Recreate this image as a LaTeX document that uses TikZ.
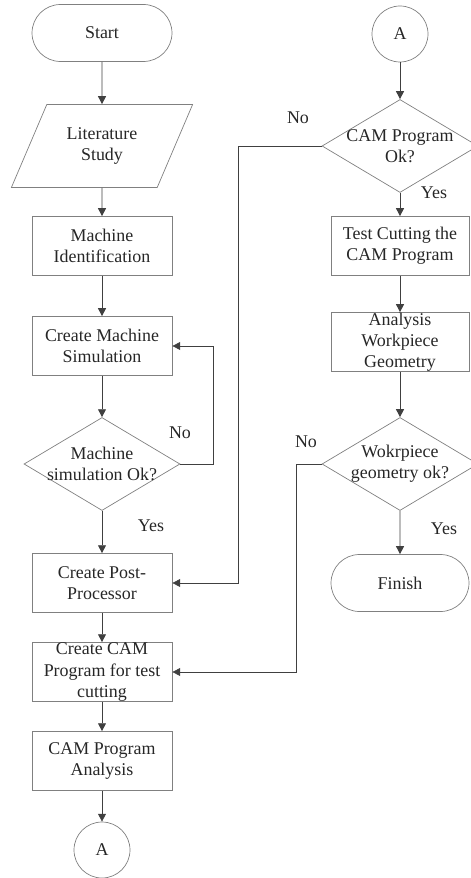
\documentclass[tikz,border=0pt]{standalone}
\usepackage{fontspec}
\setmainfont{Liberation Serif}
\usetikzlibrary{shapes.geometric, shapes.misc, arrows.meta, positioning}

\begin{document}
\begin{tikzpicture}[x=0.02cm, y=-0.02cm,
  every node/.style={font=\fontsize{10.2}{12}\selectfont, text=black!85},
  terminal/.style={draw=gray, rounded rectangle, minimum width=2.8cm, minimum height=1.14cm, inner sep=0pt},
  io/.style={draw=gray, trapezium, trapezium left angle=58.4, trapezium right angle=121.6, trapezium stretches=true, minimum width=3.64cm, minimum height=1.66cm, inner sep=0pt, align=center},
  process/.style={draw=gray, rectangle, minimum width=2.8cm, minimum height=1.18cm, inner sep=0pt, align=center},
  decision/.style={draw=gray, diamond, aspect=1.68, minimum width=3.12cm, minimum height=1.86cm, inner xsep=-6pt, inner ysep=-2pt, align=center},
  connector/.style={draw=gray, circle, minimum size=1.12cm, inner sep=0pt},
  arr/.style={-{Triangle[length=4.5pt, width=4.5pt]}, black!75},
  lbl/.style={font=\fontsize{10.2}{12}\selectfont}
]
  \useasboundingbox (0,0) rectangle (470,878);

  % left column
  \node[terminal] (start) at (102,33) {Start};
  \node[io] (lit) at (102,146) {Literature\\Study};
  \node[process] (ident) at (102,246) {Machine\\Identification};
  \node[process] (sim) at (102,346) {Create Machine\\Simulation};
  \node[decision] (simok) at (102,464) {Machine\\simulation Ok?};
  \node[process] (post) at (102,583) {Create Post-\\Processor};
  \node[process] (camtest) at (102,672) {Create CAM\\Program for test\\cutting};
  \node[process] (camana) at (102,761) {CAM Program\\Analysis};
  \node[connector] (a1) at (102,850) {A};

  % right column
  \node[connector] (a2) at (400,34) {A};
  \node[decision] (camok) at (400,146) {CAM Program\\Ok?};
  \node[process, minimum width=2.76cm] (cut) at (400,246) {Test Cutting the\\CAM Program};
  \node[process, minimum width=2.76cm] (wpana) at (400,342) {Analysis\\Workpiece\\Geometry};
  \node[decision] (wpok) at (400,464) {Wokrpiece\\geometry ok?};
  \node[terminal, minimum width=2.76cm] (finish) at (400,583) {Finish};

  % labels
  \node[lbl] (yes1) at (151,526) {Yes};
  \node[lbl] (no1) at (180,433) {No};
  \node[lbl] (yes2) at (434,193) {Yes};
  \node[lbl] (no2) at (298,118) {No};
  \node[lbl] (yes3) at (444,529) {Yes};
  \node[lbl] (no3) at (306,442) {No};

  \draw[arr] (start) -- (lit);
  \draw[arr] (lit) -- (ident);
  \draw[arr] (ident) -- (sim);
  \draw[arr] (sim) -- (simok);
  \draw[arr] (simok) -- (post);
  \draw[arr] (simok.east) -- ++(33,0) |- (sim.east);
  \draw[arr] (post) -- (camtest);
  \draw[arr] (camtest) -- (camana);
  \draw[arr] (camana) -- (a1);

  \draw[arr] (a2) -- (camok);
  \draw[arr] (camok) -- (cut);
  \draw[arr] (camok.west) -- ++(-83,0) |- (post.east);
  \draw[arr] (cut) -- (wpana);
  \draw[arr] (wpana) -- (wpok);
  \draw[arr] (wpok) -- (finish);
  \draw[arr] (wpok.west) -- ++(-25,0) |- (camtest.east);
\end{tikzpicture}
\end{document}
